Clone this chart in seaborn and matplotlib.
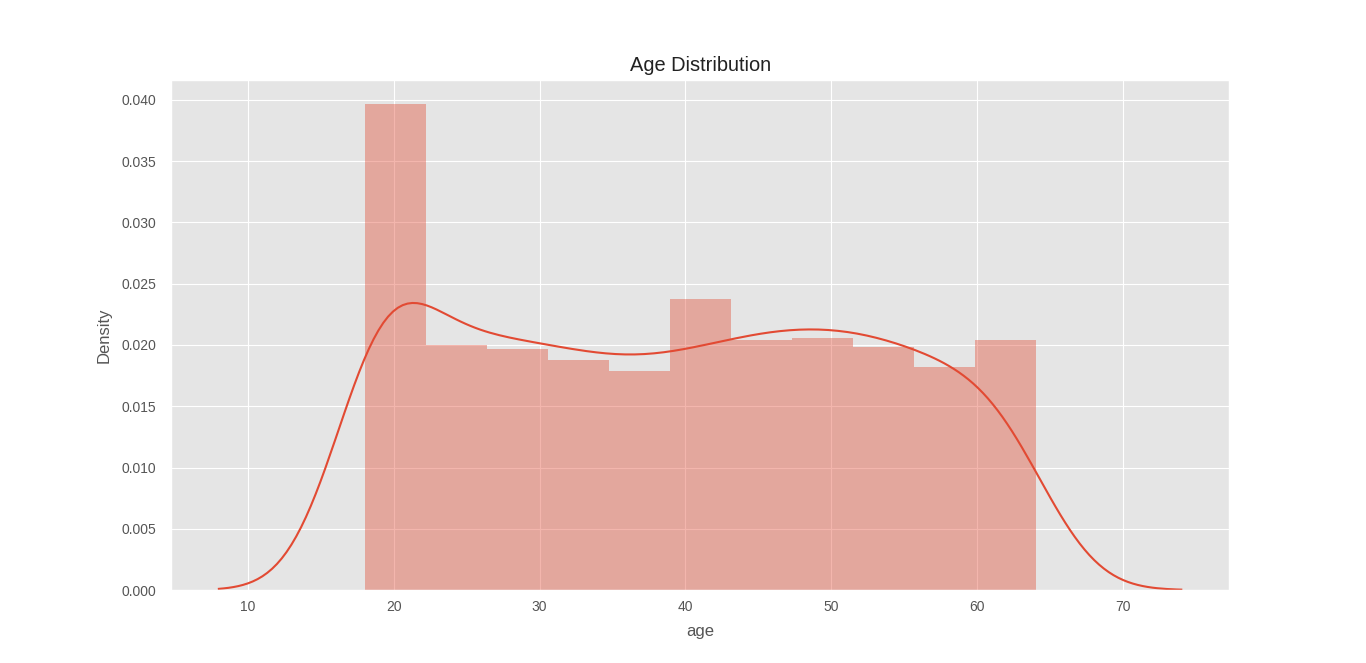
import numpy as np
import pandas as pd
import matplotlib
matplotlib.use("Agg")
import matplotlib.pyplot as plt
import seaborn as sns
import warnings
warnings.filterwarnings("ignore")

plt.style.use("ggplot")
plt.rcParams["font.family"] = ["Liberation Sans", "DejaVu Sans"]

# Ages present in the data and how many people have each age
age_values = list(range(18, 65))
age_counts = [69, 68, 29, 28, 28, 28, 28, 28, 28, 28, 28, 27, 27, 27, 26, 26, 26,
              25, 25, 25, 25, 25, 27, 27, 27, 27, 27, 29, 29, 29, 29, 28, 29, 29,
              29, 28, 28, 26, 26, 26, 25, 25, 23, 23, 23, 23, 22]

ages = pd.Series(np.repeat(age_values, age_counts), name="age")

fig = plt.figure(figsize=(13.66, 6.63), dpi=100)
ax = fig.add_subplot(111)
sns.distplot(ages, bins=11, ax=ax)
ax.set_title("Age Distribution", color="#222222")
ax.set_xlabel("age", labelpad=7)
ax.set_ylabel("Density", labelpad=7)
ax.tick_params(axis="both", length=0)
ax.tick_params(axis="y", pad=10.5)
ax.tick_params(axis="x", pad=7.5)
fig.savefig("out.png", dpi=100)
